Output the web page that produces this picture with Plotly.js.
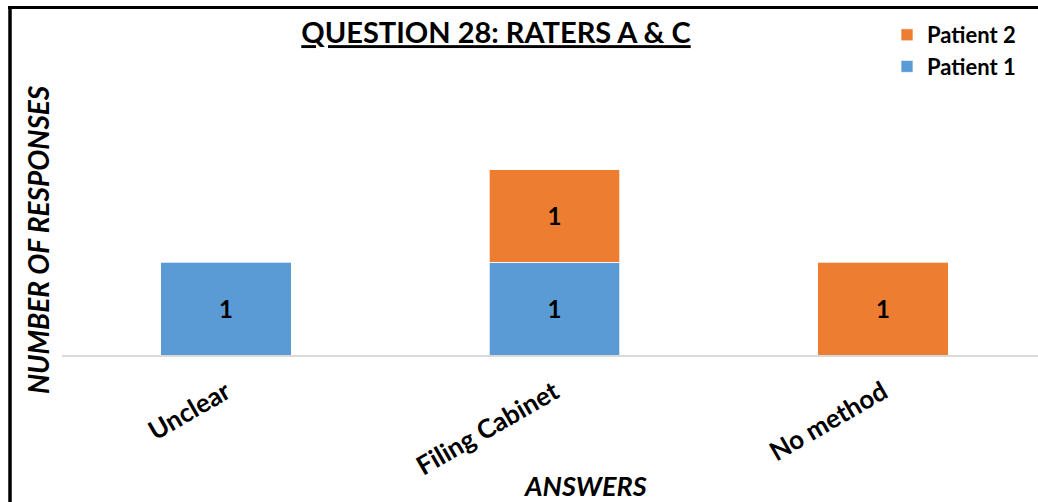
<!DOCTYPE html>
<html>
<head>
<meta charset="utf-8">
<script src="https://cdn.plot.ly/plotly-3.0.1.min.js"></script>
<style>
html,body{margin:0;padding:0;background:#fff;overflow:hidden;}
#chart{width:1038px;height:502px;}
</style>
</head>
<body>
<div id="chart"></div>
<script>
const categories = ["Unclear", "Filing Cabinet", "No method"];
const patient1 = [1, 1, null];
const patient2 = [null, 1, 1];
const seriesNames = ["Patient 1", "Patient 2"];
const titleText = "QUESTION 28: RATERS A & C";
const xTitle = "ANSWERS";
const yTitle = "NUMBER OF RESPONSES";

const FONT = "Lato, 'Open Sans', sans-serif";
const W = 1038, H = 502;
const L = 62, R = 0, T = 123, B = 147;
const pw = W - L - R, ph = H - T - B;
const px = v => (v - L) / pw;
const py = v => (H - B - v) / ph;

const blue = "#5B9BD5", orange = "#ED7D31";

const traces = [
  {
    type: "bar", name: seriesNames[0], x: categories, y: patient1,
    marker: {color: blue, line: {color: "rgba(255,255,255,0.7)", width: 1}},
    texttemplate: "%{y}", textposition: "inside", insidetextanchor: "middle",
    textfont: {family: FONT, size: 24, color: "#000", weight: 700},
    hoverinfo: "skip"
  },
  {
    type: "bar", name: seriesNames[1], x: categories, y: patient2,
    marker: {color: orange, line: {color: "rgba(255,255,255,0.7)", width: 1}},
    texttemplate: "%{y}", textposition: "inside", insidetextanchor: "middle",
    textfont: {family: FONT, size: 24, color: "#000", weight: 700},
    hoverinfo: "skip"
  }
];

const layout = {
  width: W, height: H,
  margin: {l: L, r: R, t: T, b: B, pad: 0},
  paper_bgcolor: "#fff", plot_bgcolor: "#fff",
  barmode: "stack",
  bargap: 0.604,
  showlegend: true,
  font: {family: FONT, color: "#000"},
  title: {
    text: "<b><u>" + titleText + "</u></b>",
    font: {family: FONT, size: 29, color: "#000"},
    xref: "paper", x: px(496), xanchor: "center",
    yref: "container", y: 1 - 33 / H, yanchor: "middle"
  },
  legend: {
    orientation: "v", traceorder: "reversed",
    x: px(887), xanchor: "left", y: py(14), yanchor: "top",
    font: {family: FONT, size: 22, color: "#000", weight: 700},
    bgcolor: "rgba(0,0,0,0)", borderwidth: 0
  },
  xaxis: {
    type: "category",
    range: [-(226 - L) / 328.5, -(226 - L) / 328.5 + pw / 328.5],
    showline: true, linecolor: "#d9d9d9", linewidth: 2,
    showgrid: false, zeroline: false, ticks: "",
    tickangle: -30, ticklabelstandoff: 10,
    tickfont: {family: FONT, size: 26, color: "#000", weight: 700},
    fixedrange: true
  },
  yaxis: {
    range: [0, ph / 92.7],
    showgrid: false, zeroline: false, showline: false,
    showticklabels: false, ticks: "", fixedrange: true
  },
  annotations: [
    {
      text: "<b><i>" + yTitle + "</i></b>", textangle: -90,
      xref: "paper", yref: "paper", x: px(38), y: py(240),
      xanchor: "center", yanchor: "middle", showarrow: false,
      font: {family: FONT, size: 28, color: "#000"}
    },
    {
      text: "<b><i>" + xTitle + "</i></b>",
      xref: "paper", yref: "paper", x: px(585), y: py(485),
      xanchor: "center", yanchor: "middle", showarrow: false,
      font: {family: FONT, size: 27, color: "#000"}
    }
  ],
  shapes: [
    {type: "line", xref: "paper", yref: "paper", x0: px(8), x1: px(1045), y0: py(7.5), y1: py(7.5),
     line: {color: "#000", width: 3}},
    {type: "line", xref: "paper", yref: "paper", x0: px(10), x1: px(10), y0: py(6), y1: py(510),
     line: {color: "#000", width: 3.5}}
  ]
};

Plotly.newPlot("chart", traces, layout, {displayModeBar: false, staticPlot: true});
</script>
</body>
</html>
